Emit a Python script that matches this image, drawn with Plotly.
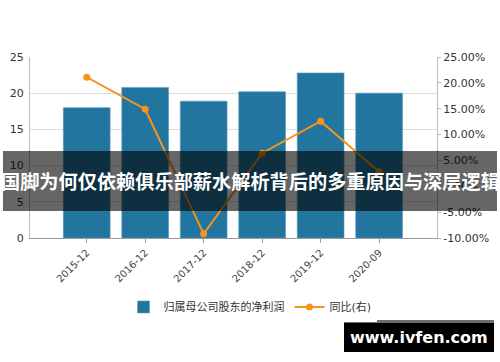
import plotly.graph_objects as go

categories = ["2015-12", "2016-12", "2017-12", "2018-12", "2019-12", "2020-09"]
net_profit = [18.0, 20.8, 18.9, 20.2, 22.8, 20.0]
yoy_pct = [21.1, 14.9, -9.2, 6.4, 12.6, 2.8]
left_ticks = [0, 5, 10, 15, 20, 25]
right_ticks = [-10, -5, 0, 5, 10, 15, 20, 25]
right_labels = ["-10.00%", "-5.00%", "0.00%", "5.00%", "10.00%", "15.00%", "20.00%", "25.00%"]
bar_name = "归属母公司股东的净利润"
line_name = "同比(右)"
title_text = "国脚为何仅依赖俱乐部薪水解析背后的多重原因与深层逻辑"
watermark = "www.ivfen.com"

FONT = "DejaVu Sans, Noto Sans CJK SC, sans-serif"
BAR_C = "#22759f"
LINE_C = "#f7941d"

fig = go.Figure()
fig.add_trace(go.Bar(x=categories, y=net_profit, name=bar_name, marker=dict(color=BAR_C, line=dict(color="#5a9cc0", width=0.6)), width=0.8, yaxis="y"))
fig.add_trace(go.Scatter(x=categories, y=yoy_pct, name=line_name, mode="lines+markers", line=dict(color=LINE_C, width=2), marker=dict(color=LINE_C, size=7), yaxis="y2"))

L, R, T, B = 30, 63, 57, 124
W, H = 500, 362
pw, ph = W - L - R, H - T - B
def px(x):
    return (x - L) / pw
def py(y):
    return (H - B - y) / ph

shapes = [
    dict(type="rect", xref="paper", yref="paper", x0=px(3), x1=px(497), y0=py(211), y1=py(151), fillcolor="rgba(0,0,0,0.6)", line=dict(width=0), layer="above"),
    dict(type="rect", xref="paper", yref="paper", x0=px(344), x1=px(494), y0=py(352), y1=py(320), fillcolor="#000000", line=dict(width=0), layer="above"),
    dict(type="rect", xref="paper", yref="paper", x0=px(344), x1=px(494), y0=py(323), y1=py(320), fillcolor="#6e6e6e", line=dict(width=0), layer="above"),
]
annotations = [
    dict(text="<b>" + title_text + "</b>", xref="paper", yref="paper", x=px(250), y=py(181), showarrow=False, font=dict(family="Noto Sans CJK SC", size=19.2, color="white"), xanchor="center", yanchor="middle"),
    dict(text="<b>" + watermark + "</b>", xref="paper", yref="paper", x=px(419), y=py(337.5), showarrow=False, font=dict(family="DejaVu Sans, Verdana", size=16, color="white"), xanchor="center", yanchor="middle"),
]

fig.update_layout(
    width=W, height=H,
    margin=dict(l=L, r=R, t=T, b=B, autoexpand=False),
    plot_bgcolor="white", paper_bgcolor="white",
    font=dict(family=FONT, size=11, color="#333"),
    bargap=0.2,
    xaxis=dict(type="category", range=[-0.97, 5.99], tickangle=-45, tickfont=dict(size=10, color="#444"),
               showline=True, linecolor="#999", linewidth=1, ticks="outside", ticklen=4, tickcolor="#999",
               showgrid=False, automargin=False),
    yaxis=dict(range=[0, 25], tickvals=left_ticks, showgrid=True, gridcolor="#dddddd", gridwidth=1,
               showline=True, linecolor="#bbb", zeroline=False, tickfont=dict(size=11, color="#333"), ticks="", ticklabelstandoff=3, automargin=False),
    yaxis2=dict(range=[-10, 25], overlaying="y", side="right", tickvals=right_ticks, ticktext=right_labels,
                showgrid=False, zeroline=False, showline=True, linecolor="#bbb", ticks="outside", ticklen=3, tickcolor="#bbb",
                tickfont=dict(size=11, color="#333"), automargin=False),
    legend=dict(orientation="h", x=px(250), y=py(307), xanchor="center", yanchor="middle", font=dict(size=11, color="#333"), itemwidth=30, tracegroupgap=0),
    shapes=shapes,
    annotations=annotations,
    showlegend=True,
)

fig.write_html("out.html", config={"displayModeBar": False},
               post_script="document.body.style.margin='0';document.body.style.padding='0';")
